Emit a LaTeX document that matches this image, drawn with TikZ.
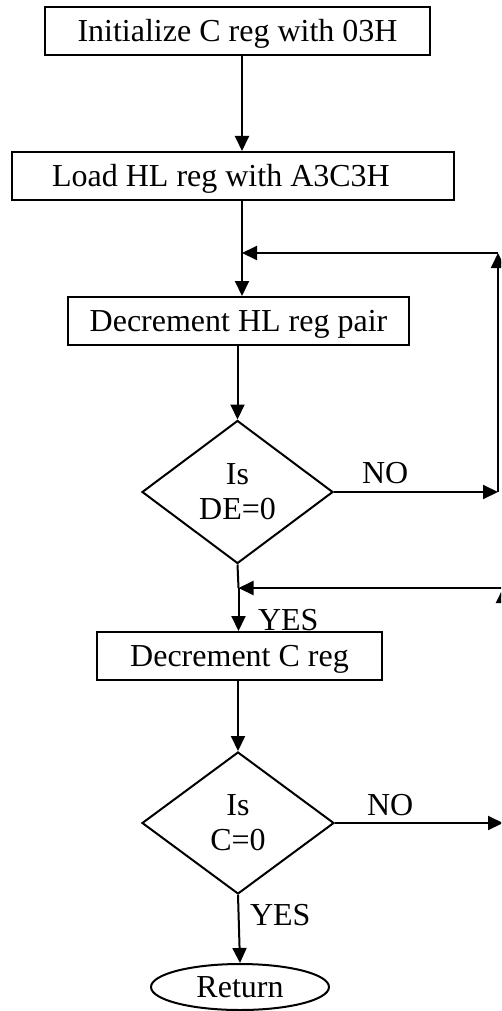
\documentclass[tikz,border=0pt]{standalone}
\usepackage{fontspec}
\setmainfont{Liberation Serif}
\usetikzlibrary{arrows.meta,shapes.geometric}
\begin{document}
\begin{tikzpicture}[x=1pt,y=1pt,
  line width=2pt,
  txt/.style={font=\fontsize{32}{35}\selectfont},
  procbox/.style={txt,draw,rectangle,minimum height=48pt,inner sep=0pt,text height=21pt,text depth=0pt},
  decide/.style={txt,draw,diamond,minimum width=191pt,minimum height=143pt,inner sep=0pt,align=center},
  term/.style={txt,draw,ellipse,minimum width=178pt,minimum height=46pt,inner sep=0pt,text height=21pt,text depth=0pt},
  lbl/.style={txt,inner sep=0pt,anchor=base west},
  arr/.style={-{Triangle[length=15pt,width=14pt]}}]
\useasboundingbox (0,0) rectangle (501,-1011);
\clip (0,0) rectangle (501,-1011);

% process steps
\node[procbox,minimum width=385pt] (b1) at (237.5,-31) {Initialize C reg with 03H};
\node[procbox,minimum width=442pt] (b2) at (233,-176) {\hspace*{-24pt}Load HL reg with A3C3H};
\node[procbox,minimum width=341pt] (b3) at (238.5,-321) {Decrement HL reg pair};
\node[decide] (d1) at (237.5,-492) {Is\\DE=0};
\node[procbox,minimum width=285pt] (b4) at (239.5,-656) {Decrement C reg};
\node[decide,minimum width=192pt,minimum height=142pt] (d2) at (238,-823) {Is\\C=0};
\node[term] (ret) at (240,-987) {Return};

% branch labels
\node[lbl] (no1) at (361,-483) {NO};
\node[lbl] (yes1) at (257,-630) {YES};
\node[lbl] (no2) at (366,-815) {NO};
\node[lbl] (yes2) at (249,-925) {YES};

% junctions and loop corners
\coordinate (j1) at (242,-253);
\coordinate (r1) at (498,-492);
\coordinate (r1top) at (498,-253);
\coordinate (j2) at (238.5,-588);
\coordinate (r2) at (503,-823);
\coordinate (r2top) at (503,-588);

% main flow
\draw[arr] (b1.south -| j1) -- (b2.north -| j1);
\draw (b2.south -| j1) -- (j1);
\draw[arr] (j1) -- (b3.north -| j1);
\draw[arr] (b3.south -| d1.north) -- (d1.north);
\draw (d1.south) -- (j2);
\draw[arr] (j2) -- (b4.north -| j2);
\draw[arr] (b4.south -| d2.north) -- (d2.north);
\draw[arr] (d2.south) -- (ret.north);

% inner loop back to the HL decrement
\draw[arr] (d1.east) -- (r1);
\draw[arr] (r1) -- (r1top);
\draw[arr] (r1top) -- (j1);

% outer loop back to the C decrement
\draw[arr] (d2.east) -- (r2);
\draw[arr] (r2) -- (r2top);
\draw[arr] (r2top) -- (j2);
\end{tikzpicture}
\end{document}
